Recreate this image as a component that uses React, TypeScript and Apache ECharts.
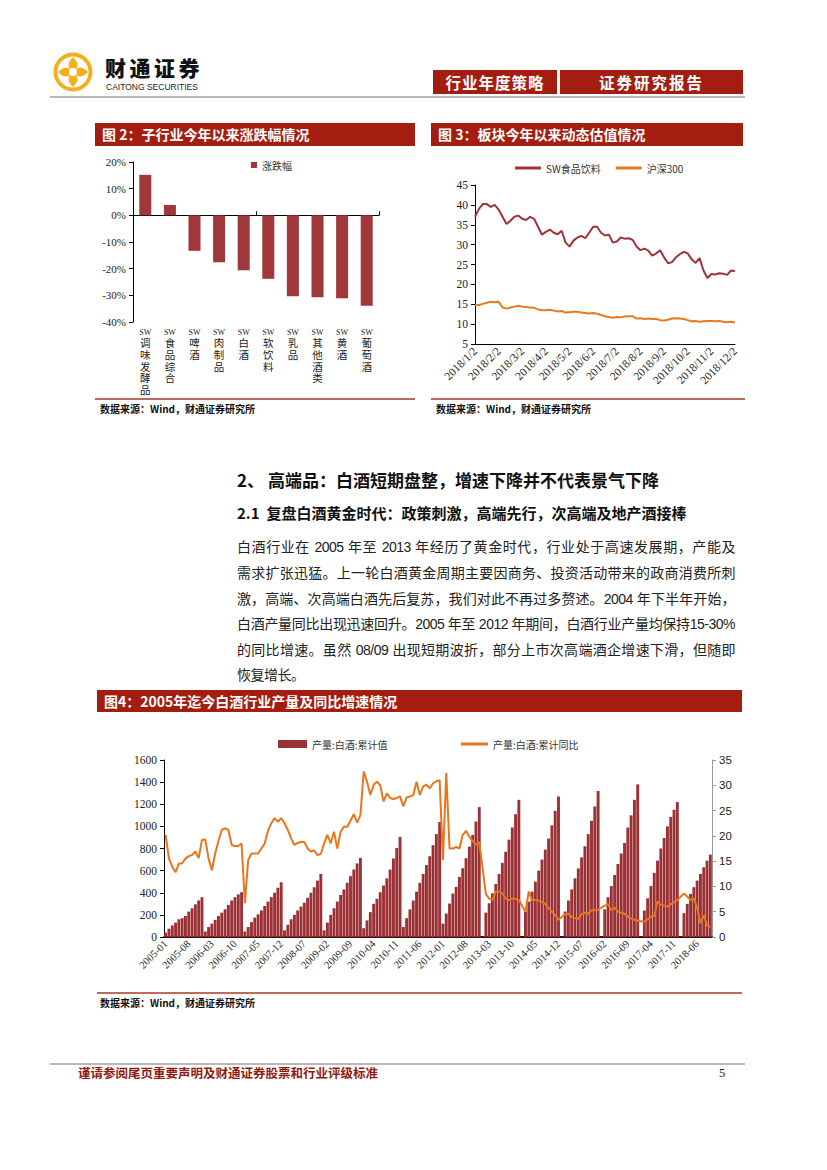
import React, { useEffect, useRef } from "react";
import * as echarts from "echarts";

// ---------- Figure 2 data ----------
const SUB_CATS = ["SW调味发酵品", "SW食品综合", "SW啤酒", "SW肉制品", "SW白酒", "SW软饮料", "SW乳品", "SW其他酒类", "SW黄酒", "SW葡萄酒"];
const SUB_CHANGE = [15.2, 3.9, -13.3, -17.6, -20.6, -23.8, -30.3, -30.7, -31.1, -33.9];

// ---------- Figure 3 data ----------
const PE_MONTHS = [1, 2, 3, 4, 5, 6, 7, 8, 9, 10, 11, 12];
const PE_DAYS = [2, 7, 12, 17, 22, 27];
const SW_FOOD_PE = [37, 39, 40.2, 40.2, 39.5, 40, 38.8, 37, 35.2, 36,
  37, 37.3, 36.5, 36.2, 37, 36.5, 34.5, 32.5, 33.2, 33.8,
  33, 32.6, 33.5, 30.5, 29.5, 31, 31.8, 32.2, 31.6, 33,
  34.5, 34.5, 33, 32.3, 32.5, 30.5, 30.8, 31.8, 31.5, 31.6,
  31.2, 29.5, 28.6, 29, 28.5, 27.2, 27.8, 28.6, 26.8, 25.3,
  25.6, 26.8, 27.6, 28.2, 27.8, 26.3, 25.4, 26.6, 23.5, 21.6,
  22.6, 22.5, 22.8, 22.7, 22.4, 23.5, 23.3];
const HS300_PE = [14.9, 14.8, 15.1, 15.4, 15.6, 15.5, 15.6, 14.2, 13.9, 14.2,
  14.4, 14.6, 14.4, 14.3, 14.2, 14.1, 13.7, 13.5, 13.5, 13.6,
  13.4, 13.2, 13.3, 12.9, 13.0, 13.1, 13.1, 12.9, 12.8, 12.7,
  12.8, 12.6, 12.3, 12.0, 11.8, 11.6, 11.8, 11.7, 11.9, 12.0,
  12.0, 11.4, 11.5, 11.3, 11.4, 11.3, 11.3, 11.0, 10.9, 11.1,
  11.4, 11.5, 11.4, 11.3, 11.0, 10.7, 10.8, 10.6, 10.7, 10.8,
  10.8, 10.7, 10.8, 10.6, 10.5, 10.6, 10.4];

// ---------- Figure 4 data ----------
const YEARS = [2005, 2006, 2007, 2008, 2009, 2010, 2011, 2012, 2013, 2014, 2015, 2016, 2017, 2018];
const MONTHS = ["01", "02", "03", "04", "05", "06", "07", "08", "09", "10", "11", "12"];
const PROD = [
  [40, 75, 105, 130, 160, 170, 190, 230, 260, 295, 330, 360],
  [50, 90, 120, 155, 190, 220, 250, 290, 330, 360, 385, 405],
  [50, 90, 135, 175, 205, 240, 280, 320, 360, 400, 445, 495],
  [60, 110, 160, 200, 240, 275, 310, 355, 400, 450, 510, 570],
  [60, 130, 200, 260, 320, 380, 430, 490, 550, 610, 665, 715],
  [80, 150, 225, 300, 345, 405, 465, 530, 610, 710, 805, 905],
  [90, 170, 250, 330, 410, 490, 570, 650, 730, 830, 930, 1040],
  [121, 212, 302, 393, 453, 543, 622, 712, 817, 923, 1044, 1174],
  [null, 220, 305, 395, 480, 570, 670, 770, 880, 990, 1110, 1240],
  [null, 230, 320, 410, 500, 600, 700, 790, 890, 1010, 1140, 1270],
  [null, 230, 330, 430, 530, 620, 720, 820, 930, 1050, 1180, 1320],
  [null, 250, 360, 460, 560, 660, 755, 850, 990, 1100, 1240, 1380],
  [null, 240, 350, 460, 580, 690, 800, 895, 1000, 1085, 1150, 1220],
  [null, 215, 300, 390, 450, 510, 570, 630, 690, 745],
];
const GROWTH = [
  [20.2, 15.5, 13.9, 12.8, 14.5, 14.6, 15.5, 16.0, 16.2, 16.9, 15.6, 19.2],
  [19.3, 15.5, 13.2, 16.5, 19.0, 21.2, 21.5, 21.2, 18.2, 18.0, 18.0, 18.5],
  [6.7, 15.2, 16.5, 16.5, 16.5, 17.5, 18.5, 21.0, 22.5, 23.5, 22.8, 23.5],
  [22.5, 21.2, 19.5, 18.2, 18.6, 18.8, 18.8, 17.5, 16.9, 17.1, 16.2, 16.4],
  [18.5, 20.2, 18.5, 20.8, 17.5, 20.8, 21.8, 21.8, 23.0, 24.3, 22.6, 24.1],
  [32.7, 30.7, 28.1, 30.1, 30.7, 30.0, 26.8, 28.4, 27.5, 27.3, 27.5, 27.8],
  [25.8, 27.6, 27.8, 28.0, 30.7, 28.1, 29.8, 30.1, 29.4, 30.4, 30.8, 31.0],
  [15.2, 32.4, 17.5, 17.5, 17.8, 17.5, 20.2, 21.0, 19.8, 19.0, 18.2, 18.8],
  [null, 8.5, 7.6, 7.3, 9.0, 9.0, 8.6, 7.6, 7.3, 7.6, 7.5, 7.3],
  [null, 5.0, 9.0, 7.3, 7.3, 7.2, 7.0, 6.5, 5.7, 5.0, 4.3, 3.4],
  [null, 4.5, 4.6, 4.0, 3.7, 3.6, 4.5, 4.8, 4.6, 5.3, 5.3, 5.4],
  [null, 6.2, 6.5, 5.3, 5.8, 5.0, 4.8, 4.6, 4.0, 3.7, 3.4, 3.2],
  [null, 3.0, 3.5, 4.0, 4.2, 7.0, 6.4, 6.2, 6.0, 6.5, 6.9, 7.3],
  [null, 8.6, 8.0, 7.3, 7.6, 5.8, 2.7, 4.3, 2.3, 2.0],
];

const BODY_LINES = [
  "白酒行业在 2005 年至 2013 年经历了黄金时代，行业处于高速发展期，产能及",
  "需求扩张迅猛。上一轮白酒黄金周期主要因商务、投资活动带来的政商消费所刺",
  "激，高端、次高端白酒先后复苏，我们对此不再过多赘述。2004 年下半年开始，",
  "白酒产量同比出现迅速回升。2005 年至 2012 年期间，白酒行业产量均保持15-30%",
  "的同比增速。虽然 08/09 出现短期波折，部分上市次高端酒企增速下滑，但随即",
  "恢复增长。",
];
const BODY_Y = [547, 573, 599, 624, 650, 675];

const RED = "#A31E10";
const CJK = '"Noto Sans CJK SC", "Liberation Sans", sans-serif';
const SERIF = '"Liberation Serif", serif';

function Chart({ option, style }: { option: any; style: React.CSSProperties }) {
  const ref = useRef<HTMLDivElement>(null);
  useEffect(() => {
    if (!ref.current) return;
    const c = echarts.init(ref.current, undefined, { renderer: "svg" });
    c.setOption(option);
    return () => c.dispose();
  }, []);
  return <div ref={ref} style={{ position: "absolute", ...style }} />;
}

function buildFig2() {
  return {
    animation: false,
    legend: {
      data: ["涨跌幅"], left: 151, top: 7, icon: "rect", itemWidth: 6, itemHeight: 6,
      textStyle: { fontSize: 10, fontFamily: CJK, color: "#333" },
    },
    grid: { left: 38, right: 36, top: 14, bottom: 76 },
    xAxis: [
      {
        type: "category", data: SUB_CATS, position: "bottom",
        axisLine: { onZero: true, lineStyle: { color: "#000", width: 1 } },
        axisTick: { show: true, inside: true, length: 4, lineStyle: { color: "#000" } },
        axisLabel: { show: false },
      },
      {
        type: "category", data: SUB_CATS, position: "bottom",
        axisLine: { show: false, onZero: false }, axisTick: { show: false },
        axisLabel: {
          interval: 0, margin: 5, fontSize: 10.5, lineHeight: 11.7, color: "#222", fontFamily: CJK,
          formatter: (v: string) => "{s|SW}\n" + v.slice(2).split("").join("\n"),
          rich: { s: { fontSize: 8, lineHeight: 10, fontFamily: SERIF, color: "#222" } },
        },
      },
    ],
    yAxis: {
      type: "value", min: -40, max: 20, interval: 10,
      axisLine: { show: true, lineStyle: { color: "#000" } },
      axisTick: { show: true, length: 4, lineStyle: { color: "#000" } },
      splitLine: { show: false },
      axisLabel: { formatter: "{value}%", fontSize: 11, fontFamily: SERIF, color: "#222", margin: 7 },
    },
    series: [{ type: "bar", name: "涨跌幅", data: SUB_CHANGE, barWidth: 12, xAxisIndex: 0, itemStyle: { color: "#A0373A" } }],
  };
}

function buildFig3() {
  const dates: string[] = [];
  PE_MONTHS.forEach((m) => PE_DAYS.forEach((d) => dates.push(`2018/${m}/${d}`)));
  const cats = dates.slice(0, SW_FOOD_PE.length);
  return {
    animation: false,
    legend: {
      data: ["SW食品饮料", "沪深300"], left: 79, top: 10, icon: "rect", itemWidth: 26, itemHeight: 3, itemGap: 15,
      textStyle: { fontSize: 10, fontFamily: CJK, color: "#333" },
    },
    grid: { left: 44, right: 8, top: 37, bottom: 54 },
    xAxis: {
      type: "category", data: cats, boundaryGap: false,
      axisLine: { lineStyle: { color: "#000" } }, axisTick: { show: false },
      axisLabel: {
        interval: (i: number) => i % 6 === 0, rotate: 45, fontSize: 11.5, fontFamily: SERIF, color: "#222", margin: 5,
      },
    },
    yAxis: {
      type: "value", min: 5, max: 45, interval: 5,
      axisLine: { show: true, lineStyle: { color: "#000" } },
      axisTick: { show: true, length: 4, lineStyle: { color: "#000" } },
      splitLine: { show: false },
      axisLabel: { fontSize: 11.5, fontFamily: SERIF, color: "#222", margin: 7 },
    },
    series: [
      { type: "line", name: "SW食品饮料", data: SW_FOOD_PE, symbol: "none", lineStyle: { width: 2, color: "#A0333A" }, itemStyle: { color: "#A0333A" } },
      { type: "line", name: "沪深300", data: HS300_PE, symbol: "none", lineStyle: { width: 2, color: "#E87A1E" }, itemStyle: { color: "#E87A1E" } },
    ],
  };
}

function buildFig4() {
  const cats: string[] = [];
  const prod: (number | null)[] = [];
  const growth: (number | null)[] = [];
  YEARS.forEach((y, yi) => {
    PROD[yi].forEach((v, mi) => {
      cats.push(`${y}-${MONTHS[mi]}`);
      prod.push(v);
      growth.push(GROWTH[yi][mi]);
    });
  });
  return {
    animation: false,
    legend: [
      {
        data: ["产量:白酒:累计值"], left: 176, top: 19, icon: "rect", itemWidth: 29, itemHeight: 8,
        textStyle: { fontSize: 10, fontFamily: CJK, color: "#333" },
      },
      {
        data: ["产量:白酒:累计同比"], left: 359, top: 19, icon: "rect", itemWidth: 27, itemHeight: 3,
        textStyle: { fontSize: 10, fontFamily: CJK, color: "#333" },
      },
    ],
    grid: { left: 67, right: 31, top: 45, bottom: 56 },
    xAxis: {
      type: "category", data: cats,
      axisLine: { lineStyle: { color: "#3a1010", width: 2 } }, axisTick: { show: false },
      axisLabel: { interval: 6, rotate: 45, fontSize: 10.5, fontFamily: SERIF, color: "#222", margin: 5 },
    },
    yAxis: [
      {
        type: "value", min: 0, max: 1600, interval: 200,
        axisLine: { show: true, lineStyle: { color: "#000" } },
        axisTick: { show: true, length: 4, lineStyle: { color: "#000" } },
        splitLine: { show: false },
        axisLabel: { fontSize: 11.5, fontFamily: SERIF, color: "#222", margin: 7, formatter: (v: number) => String(v) },
      },
      {
        type: "value", min: 0, max: 35, interval: 5, position: "right",
        axisLine: { show: true, lineStyle: { color: "#999" } },
        axisTick: { show: true, length: 4, lineStyle: { color: "#999" } },
        splitLine: { show: false },
        axisLabel: { fontSize: 11.5, fontFamily: '"Liberation Sans", sans-serif', color: "#222", margin: 7, formatter: (v: number) => String(v) },
      },
    ],
    series: [
      { type: "bar", name: "产量:白酒:累计值", data: prod, yAxisIndex: 0, barCategoryGap: "12%", itemStyle: { color: "#9B3134" } },
      { type: "line", name: "产量:白酒:累计同比", data: growth, yAxisIndex: 1, symbol: "none", connectNulls: true, lineStyle: { width: 2, color: "#E8761C" }, itemStyle: { color: "#E8761C" } },
    ],
  };
}

function Abs({ x, y, children, style }: { x: number; y: number; children?: React.ReactNode; style?: React.CSSProperties }) {
  return <div style={{ position: "absolute", left: x, top: y, whiteSpace: "nowrap", ...style }}>{children}</div>;
}

function TitleBar({ x, y, w, h, text }: { x: number; y: number; w: number; h: number; text: string }) {
  return (
    <div style={{ position: "absolute", left: x, top: y, width: w, height: h, background: RED, color: "#fff", fontWeight: 700, fontSize: 14, lineHeight: h + "px", paddingLeft: 7, boxSizing: "border-box", fontFamily: CJK, whiteSpace: "nowrap" }}>
      {text}
    </div>
  );
}

function Source({ x, y }: { x: number; y: number }) {
  return (
    <Abs x={x} y={y} style={{ fontSize: 10, fontWeight: 700, lineHeight: "12px", color: "#111", fontFamily: CJK }}>
      数据来源：Wind，财通证券研究所
    </Abs>
  );
}

export default function App() {
  return (
    <div style={{ position: "absolute", left: 0, top: 0, width: 827, height: 1170, background: "#fff", overflow: "hidden", fontFamily: CJK, color: "#111" }}>
      {/* Header */}
      <svg style={{ position: "absolute", left: 52, top: 51 }} width={42} height={42} viewBox="0 0 42 42">
        <circle cx={21} cy={21} r={17.5} fill="none" stroke="#F2B01E" strokeWidth={4} />
        <path d="M21 6 C27 12 27 16 21 21 C15 16 15 12 21 6 Z" fill="#F2B01E" />
        <path d="M21 36 C27 30 27 26 21 21 C15 26 15 30 21 36 Z" fill="#F2B01E" />
        <path d="M6 21 C12 15 16 15 21 21 C16 27 12 27 6 21 Z" fill="#F2B01E" />
        <path d="M36 21 C30 15 26 15 21 21 C26 27 30 27 36 21 Z" fill="#F2B01E" />
        <circle cx={21} cy={21} r={4} fill="#fff" />
      </svg>
      <Abs x={105} y={56} style={{ fontSize: 21, fontWeight: 900, lineHeight: "22px", letterSpacing: 3.5, color: "#111" }}>财通证券</Abs>
      <Abs x={106} y={82} style={{ fontSize: 8.5, lineHeight: "10px", fontFamily: '"Liberation Sans", sans-serif', color: "#222" }}>CAITONG SECURITIES</Abs>
      <div style={{ position: "absolute", left: 433, top: 70, width: 124, height: 24, background: RED, color: "#fff", fontWeight: 700, fontSize: 15.5, lineHeight: "24px", textAlign: "center", letterSpacing: 1 }}>行业年度策略</div>
      <div style={{ position: "absolute", left: 560, top: 70, width: 183, height: 24, background: RED, color: "#fff", fontWeight: 700, fontSize: 15.5, lineHeight: "24px", textAlign: "center", letterSpacing: 2 }}>证券研究报告</div>
      <div style={{ position: "absolute", left: 50, top: 96, width: 695, height: 2, background: "#B8B8B8" }} />

      {/* Figure 2 */}
      <TitleBar x={95} y={123} w={320} h={23} text="图 2：子行业今年以来涨跌幅情况" />
      <Chart option={buildFig2()} style={{ left: 95, top: 148, width: 320, height: 250 }} />
      <div style={{ position: "absolute", left: 95, top: 398, width: 320, height: 2, background: "#B86B5E" }} />
      <Source x={100} y={403} />

      {/* Figure 3 */}
      <TitleBar x={431} y={123} w={312} h={23} text="图 3：板块今年以来动态估值情况" />
      <Chart option={buildFig3()} style={{ left: 431, top: 148, width: 312, height: 250 }} />
      <div style={{ position: "absolute", left: 431, top: 398, width: 314, height: 2, background: "#B86B5E" }} />
      <Source x={436} y={403} />

      {/* Text */}
      <Abs x={237} y={469} style={{ fontSize: 17, fontWeight: 700, lineHeight: "22px" }}>2、 高端品：白酒短期盘整，增速下降并不代表景气下降</Abs>
      <Abs x={237} y={503} style={{ fontSize: 15, fontWeight: 700, lineHeight: "20px" }}>2.1&nbsp;&nbsp;复盘白酒黄金时代：政策刺激，高端先行，次高端及地产酒接棒</Abs>
      {BODY_LINES.map((t, i) => (
        <div key={i} style={{
          position: "absolute", left: 237, top: BODY_Y[i] - 10, width: 498, fontSize: 14, lineHeight: "20px",
          whiteSpace: "nowrap", letterSpacing: -0.5, color: "#222",
          textAlign: i === BODY_LINES.length - 1 ? "left" : "justify",
          textAlignLast: i === BODY_LINES.length - 1 ? "left" : "justify",
          fontFamily: '"Liberation Sans", "Noto Sans CJK SC", sans-serif',
        } as React.CSSProperties}>{t}</div>
      ))}

      {/* Figure 4 */}
      <TitleBar x={97} y={690} w={645} h={22} text="图4：2005年迄今白酒行业产量及同比增速情况" />
      <Chart option={buildFig4()} style={{ left: 97, top: 715, width: 646, height: 278 }} />
      <div style={{ position: "absolute", left: 97, top: 992, width: 645, height: 2, background: "#C06A5A" }} />
      <Source x={100} y={997} />

      {/* Footer */}
      <div style={{ position: "absolute", left: 50, top: 1063, width: 695, height: 2, background: "#B8B8B8" }} />
      <Abs x={78} y={1066} style={{ fontSize: 12.5, fontWeight: 700, lineHeight: "14px", color: "#8E1C12" }}>谨请参阅尾页重要声明及财通证券股票和行业评级标准</Abs>
      <Abs x={719} y={1066} style={{ fontSize: 12.5, lineHeight: "14px", fontFamily: SERIF, color: "#222" }}>5</Abs>
    </div>
  );
}
